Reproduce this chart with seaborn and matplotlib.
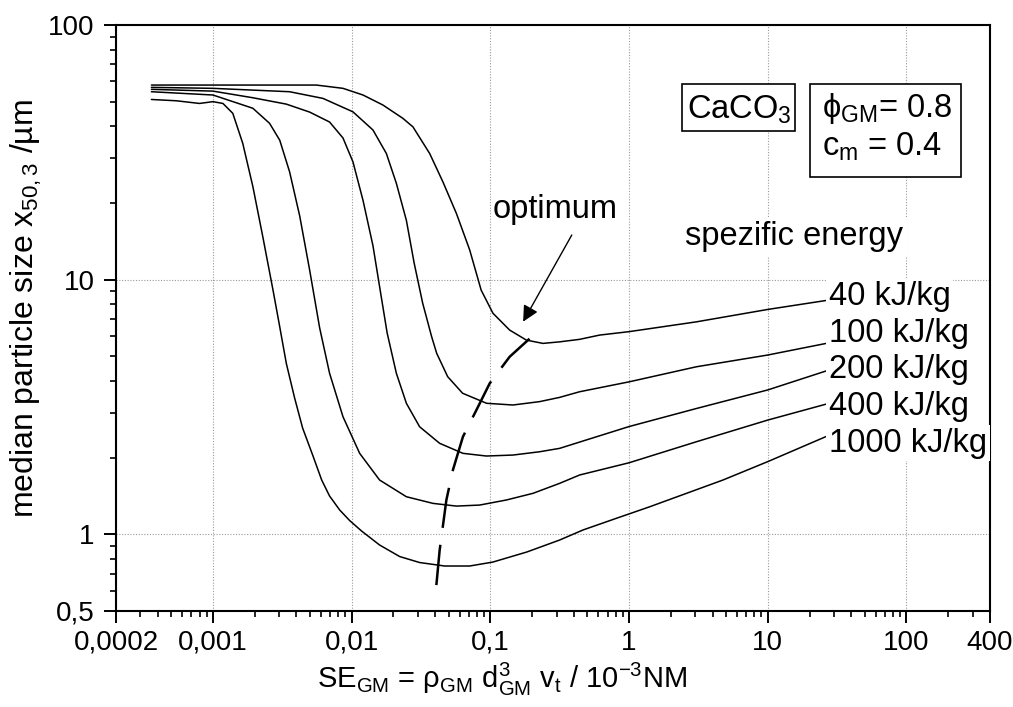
import numpy as np
import pandas as pd
import matplotlib
matplotlib.use("Agg")
import matplotlib.pyplot as plt
from matplotlib.patches import Rectangle
from matplotlib.ticker import LogLocator, NullFormatter
import seaborn as sns

# Median particle size vs. stress energy, one curve per specific energy
x_40 = [0.00036, 0.00556, 0.00866, 0.01207, 0.0168, 0.0234, 0.02767, 0.0365, 0.0455, 0.0569,
        0.0709, 0.0858, 0.1044, 0.1377, 0.1818, 0.2394, 0.316, 0.44, 0.614, 1.0,
        3.06, 10, 27.7]
y_40 = [58.1, 58.1, 56.4, 53.1, 48.5, 43.0, 39.8, 31.3, 24.2, 18.2,
        13.1, 9.1, 7.38, 6.34, 5.79, 5.62, 5.70, 5.83, 6.06, 6.25,
        6.83, 7.64, 8.32]

x_100 = [0.00036, 0.001, 0.00357, 0.00621, 0.01022, 0.01424, 0.01779, 0.0210, 0.0248, 0.02822,
         0.0325, 0.03773, 0.04101, 0.04923, 0.0631, 0.0940, 0.1455, 0.2266, 0.316, 0.44,
         1.0, 3.06, 10, 27.7]
y_100 = [56.9, 56.4, 54.7, 51.5, 45.6, 38.7, 31.3, 23.9, 17.1, 11.62,
         8.09, 5.97, 5.14, 4.16, 3.58, 3.27, 3.22, 3.32, 3.45, 3.63,
         3.97, 4.55, 5.06, 5.65]

x_200 = [0.00036, 0.001, 0.00194, 0.00338, 0.00498, 0.00693, 0.00866, 0.01022, 0.01207, 0.01424,
         0.01605, 0.01803, 0.0210, 0.0248, 0.0309, 0.0431, 0.0634, 0.0935, 0.1455, 0.2266,
         0.316, 0.465, 1.0, 3.06, 10, 27.7]
y_200 = [55.9, 55.0, 51.8, 48.9, 45.5, 41.6, 36.0, 29.0, 20.5, 13.6,
         9.1, 6.17, 4.29, 3.27, 2.645, 2.277, 2.08, 2.03, 2.048, 2.11,
         2.176, 2.325, 2.65, 3.12, 3.69, 4.42]

x_400 = [0.00036, 0.001, 0.00194, 0.00256, 0.00303, 0.00357, 0.00422, 0.00498, 0.00588, 0.00693,
         0.00866, 0.01142, 0.0159, 0.0248, 0.03856, 0.0569, 0.0837, 0.1304, 0.203, 0.316,
         0.44, 1.0, 3.06, 10, 27.7]
y_400 = [54.7, 53.1, 47.1, 41.1, 35.3, 26.5, 17.8, 10.9, 6.46, 4.29,
         2.895, 2.08, 1.634, 1.405, 1.323, 1.291, 1.303, 1.364, 1.449, 1.586,
         1.71, 1.91, 2.31, 2.81, 3.27]

x_1000 = [0.00036, 0.000545, 0.0008, 0.001, 0.00118, 0.00139, 0.00164, 0.00194, 0.00229, 0.00271,
          0.00303, 0.00338, 0.00388, 0.00443, 0.00523, 0.00608, 0.00693, 0.0082, 0.00967, 0.0118,
          0.0159, 0.0222, 0.0309, 0.0468, 0.0709, 0.104, 0.1827, 0.316, 0.465, 0.81,
          1.408, 4.75, 10, 27.7]
y_1000 = [51.0, 50.4, 49.2, 50.0, 49.2, 45.0, 34.3, 23.2, 14.7, 9.1,
          6.53, 4.69, 3.43, 2.615, 2.05, 1.634, 1.414, 1.246, 1.133, 1.03,
          0.908, 0.818, 0.775, 0.751, 0.751, 0.778, 0.852, 0.950, 1.04, 1.156,
          1.283, 1.634, 1.93, 2.45]

# Locus of the minima (optimum stress energy)
x_opt = [0.0408, 0.0431, 0.04818, 0.0537, 0.0634, 0.0793, 0.0989, 0.1377, 0.1867, 0.2204]
y_opt = [0.632, 0.868, 1.364, 1.789, 2.416, 3.076, 3.915, 4.98, 5.79, 6.30]

energy_labels = ["40 kJ/kg", "100 kJ/kg", "200 kJ/kg", "400 kJ/kg", "1000 kJ/kg"]

x_ticks = [0.0002, 0.001, 0.01, 0.1, 1, 10, 100, 400]
x_ticklabels = ["0,0002", "0,001", "0,01", "0,1", "1", "10", "100", "400"]
y_ticks = [0.5, 1, 10, 100]
y_ticklabels = ["0,5", "1", "10", "100"]

curves = [(x_40, y_40), (x_100, y_100), (x_200, y_200), (x_400, y_400), (x_1000, y_1000)]
df = pd.concat(
    [pd.DataFrame({"SE": xs, "x50": ys, "energy": lab})
     for lab, (xs, ys) in zip(energy_labels, curves)],
    ignore_index=True,
)

sns.set_theme(style="white")
plt.rcParams["font.family"] = ["Liberation Sans", "DejaVu Sans"]
plt.rcParams.update({
    "mathtext.fontset": "custom",
    "mathtext.rm": "Liberation Sans",
    "mathtext.it": "Liberation Sans:italic",
    "mathtext.bf": "Liberation Sans:bold",
    "mathtext.sf": "Liberation Sans",
    "mathtext.default": "regular",
})

fig = plt.figure(figsize=(10.13, 7.07), dpi=100)
ax = fig.add_axes([116 / 1013, 96 / 707, 874 / 1013, 586 / 707])
ax.set_xscale("log")
ax.set_yscale("log")

sns.lineplot(data=df, x="SE", y="x50", hue="energy", palette=["black"] * 5,
             sort=False, estimator=None, legend=False, lw=1.1, ax=ax)
for ln in ax.lines:
    ln.set_solid_joinstyle("round")
sns.lineplot(x=x_opt, y=y_opt, sort=False, estimator=None, color="black",
             lw=1.8, dashes=False, ax=ax)
ax.lines[-1].set_dashes([9 * 1.8, 3.8 * 1.8])

ax.set_xlim(0.0002, 400)
ax.set_ylim(0.5, 100)
ax.set_xticks(x_ticks, x_ticklabels)
ax.set_yticks(y_ticks, y_ticklabels)
ax.xaxis.set_minor_locator(LogLocator(base=10, subs=np.arange(2, 10), numticks=100))
ax.yaxis.set_minor_locator(LogLocator(base=10, subs=np.arange(2, 10), numticks=100))
ax.xaxis.set_minor_formatter(NullFormatter())
ax.yaxis.set_minor_formatter(NullFormatter())

ax.tick_params(axis="both", which="major", direction="out", length=8.5, width=1.4,
               color="black", labelcolor="black", labelsize=20,
               bottom=True, left=True, top=False, right=False)
ax.tick_params(axis="both", which="minor", direction="out", length=4.5, width=1.2,
               color="black", bottom=True, left=True, top=False, right=False)
ax.tick_params(axis="x", which="major", pad=5)
ax.tick_params(axis="y", which="major", pad=7)

for sp in ax.spines.values():
    sp.set_color("black")
    sp.set_linewidth(1.5)

ax.grid(True, which="major", linestyle=(0, (1, 1.5)), color="#9a9a9a", lw=0.8)
ax.grid(False, which="minor")
ax.set_axisbelow(True)

ax.set_ylabel("median particle size x$_{\\mathrm{50,3}}$ /µm", fontsize=23, color="black")
ax.yaxis.set_label_coords(-0.0824, 0.517)
ax.set_xlabel("SE$_{\\mathrm{GM}}$ = ρ$_{\\mathrm{GM}}$ d$^{\\mathrm{3}}_{\\mathrm{GM}}$ "
              "v$_{\\mathrm{t}}$ / 10$^{\\mathrm{-3}}$NM", fontsize=21, color="black")
ax.xaxis.set_label_coords(0.4416, -0.0853)

fs = 23.5
ax.text(0.5029, 0.6706, "optimum", transform=ax.transAxes, fontsize=fs,
        ha="center", va="baseline", color="black")
ax.annotate("", xy=(0.4658, 0.4937), xytext=(0.5215, 0.6416),
            xycoords="axes fraction", textcoords="axes fraction",
            arrowprops=dict(arrowstyle="-|>", color="black", lw=1.0,
                            mutation_scale=24, shrinkA=0, shrinkB=0))

ax.text(0.6513, 0.6246, "spezific energy", transform=ax.transAxes, fontsize=fs,
        ha="left", va="baseline", color="black",
        bbox=dict(boxstyle="square,pad=0.12", fc="white", ec="none"))

label_baselines = [0.5222, 0.4596, 0.3971, 0.3345, 0.2719]
for lab, yb in zip(energy_labels, label_baselines):
    ax.text(0.8158, yb, lab, transform=ax.transAxes, fontsize=fs, ha="left",
            va="baseline", color="black", zorder=4,
            bbox=dict(boxstyle="square,pad=0.08", fc="white", ec="none"))

# Material and process parameter boxes
ax.add_patch(Rectangle((0.6473, 0.8196), 0.7772 - 0.6473, 0.8993 - 0.8196,
                       transform=ax.transAxes, fc="white", ec="black", lw=1.2, zorder=4))
ax.text(0.6537, 0.8408, "CaCO$_{\\mathrm{3}}$", transform=ax.transAxes, fontsize=fs,
        ha="left", va="baseline", color="black", zorder=5)

ax.add_patch(Rectangle((0.7941, 0.7411), 0.9665 - 0.7941, 0.8993 - 0.7411,
                       transform=ax.transAxes, fc="white", ec="black", lw=1.2, zorder=4))
ax.text(0.8074, 0.8435, "ϕ$_{\\mathrm{GM}}$= 0.8", transform=ax.transAxes, fontsize=fs,
        ha="left", va="baseline", color="black", zorder=5)
ax.text(0.8074, 0.7770, "c$_{\\mathrm{m}}$ = 0.4", transform=ax.transAxes, fontsize=fs,
        ha="left", va="baseline", color="black", zorder=5)

fig.savefig("out.png", dpi=100)
